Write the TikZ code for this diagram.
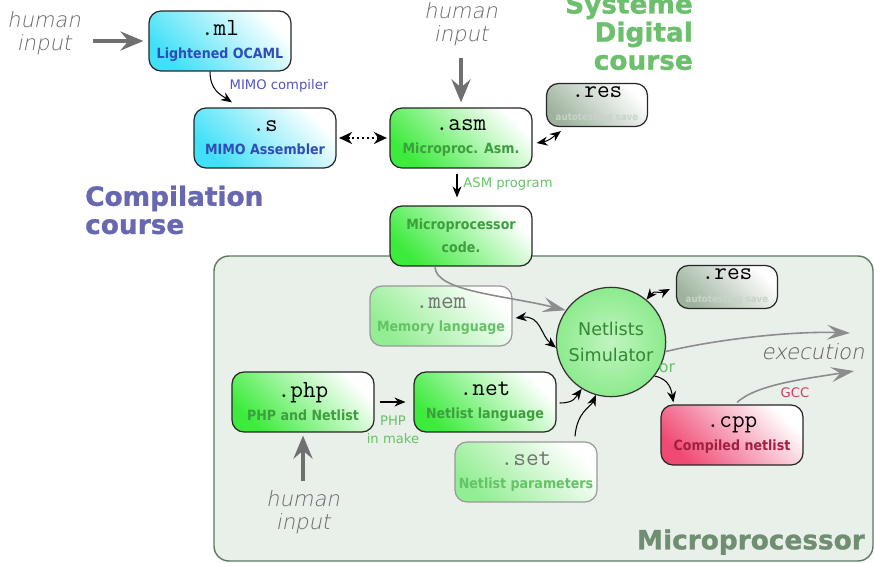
\documentclass[tikz,border=0pt]{standalone}
\usepackage{fontspec}
\usetikzlibrary{arrows.meta,calc}
\newfontfamily\mpsans{DejaVu Sans}
\newfontfamily\mpcond{DejaVu Sans Condensed}
\newfontfamily\mpfin[FakeSlant=0.2]{DejaVu Sans ExtraLight}
\newfontfamily\mpgras[FakeBold=1.2]{DejaVu Sans Bold}
\definecolor{mpcyan}{HTML}{3FE0F8}
\definecolor{mpbleu}{HTML}{2E4DB8}
\definecolor{mpvert}{HTML}{3DEB3D}
\definecolor{mpvertfonce}{HTML}{3E9E3E}
\definecolor{mpvertclair}{HTML}{66C266}
\definecolor{mpgris}{HTML}{707070}
\definecolor{mpfond}{HTML}{E9F0E9}
\definecolor{mpbord}{HTML}{5A7A62}
\definecolor{mpres}{HTML}{86A086}
\definecolor{mprose}{HTML}{F04A74}
\definecolor{mprouge}{HTML}{A31F40}
\definecolor{mpviolet}{HTML}{6868B2}
\definecolor{mptitrevert}{HTML}{6CBF6C}
\definecolor{mptitregris}{HTML}{6F8E72}
\definecolor{mpcercle}{HTML}{8DEB8D}
\newcommand{\mpext}{\ttfamily\fontsize{14}{14}\selectfont}
\newcommand{\mplab}{\mpcond\bfseries\fontsize{8}{10}\selectfont}
\newcommand{\fichier}[3][black]{{\mpext\textcolor{#1}{#2}}\\[1pt]{\mplab #3}}
\tikzset{
  mpboite/.style={draw=black!85, line width=0.7pt, rounded corners=0.24cm, minimum width=2.84cm,
                  minimum height=1.2cm, inner sep=1pt, align=center,
                  left color=#1, right color=white, shading angle=135},
  mpcomp/.style={mpboite=mpcyan, text=mpbleu},
  mpsd/.style={mpboite=mpvert, text=mpvertfonce},
  mppale/.style={mpboite=mpvert!50!mpfond, draw=black!40, text=mpvertclair},
  mpresboite/.style={mpboite=mpres!80!white, minimum width=2.02cm, minimum height=0.86cm, text=mpres!45!white},
  mpcpp/.style={mpboite=mprose, text=mprouge},
  mpsim/.style={circle, draw=black!80, line width=0.7pt, inner color=mpcercle!55!white,
                outer color=mpcercle, minimum size=1.94cm, align=center, text=mpvertfonce!85!black,
                font=\mpsans\fontsize{10}{15}\selectfont},
  mpfleche/.style={-{Stealth[length=2.2mm, width=1.8mm]}, semithick},
  mpdouble/.style={{Stealth[length=2.2mm, width=1.8mm]}-{Stealth[length=2.2mm, width=1.8mm]}, semithick},
  mpgrosse/.style={-{Stealth[length=4.6mm, width=3.8mm, inset=1.6mm]}, line width=2.6pt, draw=mpgris},
  mpgrise/.style={-{Stealth[length=4.6mm, width=3mm, inset=1.8mm]}, line width=0.9pt, draw=black!45},
  mphumain/.style={font=\mpfin\fontsize{12}{13}\selectfont, text=black!60, align=center},
  mpnote/.style={font=\mpsans\fontsize{7.5}{10.5}\selectfont, align=center},
  mptitre/.style={font=\mpgras\fontsize{15}{16}\selectfont},
}
\begin{document}
\begin{tikzpicture}[x=0.02cm, y=-0.02cm]
    \useasboundingbox (0,0) rectangle (874,563);
    % bloc du microprocesseur
    \draw[mpbord, line width=0.8pt, fill=mpfond, rounded corners=0.3cm] (214,256) rectangle (873,561);
    \node[mptitre, text=mptitregris, anchor=east] (titremp) at (871,542) {Microprocessor};
    % titres des cours
    \node[mptitre, text=mpviolet, anchor=west, align=left] (titrecomp) at (79,210) {Compilation\\course};
    \node[mptitre, text=mptitrevert, anchor=east, align=right] (titresd) at (699,32) {Systeme\\Digital\\course};
    % fichiers
    \node[mpcomp] (ml) at (220,41) {\fichier{.ml}{Lightened OCAML}};
    \node[mpcomp] (s) at (265,138) {\fichier{.s}{MIMO Assembler}};
    \node[mpsd] (asm) at (461,138) {\fichier{.asm}{Microproc. Asm.}};
    \node[mpresboite] (resa) at (597,105) {\fichier{.res}{\fontsize{5.5}{7}\selectfont autotesting save}};
    \node[mpsd, font=\mplab, text=mpvertfonce] (code) at (461,236) {Microprocessor\\[3pt]code.};
    \node[mppale] (mem) at (441,316) {\fichier[black!55]{.mem}{Memory language}};
    \node[mpsim] (sim) at (611,342) {Netlists\\Simulator};
    \node[mpresboite] (resb) at (727,287) {\fichier{.res}{\fontsize{5.5}{7}\selectfont autotesting save}};
    \node[mpsd] (php) at (303,402) {\fichier{.php}{PHP and Netlist}};
    \node[mpsd] (net) at (485,402) {\fichier{.net}{Netlist language}};
    \node[mppale] (set) at (526,472) {\fichier[black!55]{.set}{Netlist parameters}};
    \node[mpcpp] (cpp) at (732,435) {\fichier{.cpp}{Compiled netlist}};
    % entrees humaines
    \node[mphumain] (hina) at (44,33) {human\\input};
    \node[mphumain] (hinb) at (461,24) {human\\input};
    \node[mphumain] (hinc) at (303,512) {human\\input};
    \node[mphumain, text=black!65] (exec) at (813,352) {execution};
    % etiquettes des fleches
    \node[mpnote, text=mpviolet!80!blue] (lmimo) at (279,86) {MIMO compiler};
    \node[mpnote, text=mpvertclair] (lasm) at (508,184) {ASM program};
    \node[mpnote, text=mpvertclair] (lphp) at (393,430) {PHP\\in make};
    \node[mpnote, text=mpvertclair, font=\mpsans\fontsize{9}{10}\selectfont] (lor) at (667,368) {or};
    \node[mpnote, text=mprose!85!black] (lgcc) at (795,393) {GCC};
    \coordinate (fexec) at (850,333);
    \coordinate (fgcc) at (854,371);
    % fleches
    \draw[mpgrosse, shorten <=1.2mm, shorten >=1mm] (hina.east |- ml.west) -- (ml.west);
    \draw[mpgrosse, shorten <=1.2mm, shorten >=1mm] (hinb.south) -- (asm.north);
    \draw[mpgrosse, shorten <=0.6mm, shorten >=0.6mm] (hinc.north) -- (php.south);
    \draw[mpfleche] ($(ml.south)+(-10,0)$) .. controls +(0,18) and +(-12,-8) .. ($(s.north)+(-33,-5)$);
    \draw[{Stealth[length=2.6mm, width=2.4mm]}-{Stealth[length=2.6mm, width=2.4mm]}, line width=1.4pt,
          dash pattern=on 1.4pt off 1.4pt, shorten <=0.5mm, shorten >=0.5mm] (s.east) -- (asm.west);
    \draw[mpdouble] ($(asm.east)+(4,5)$) .. controls +(12,-2) and +(-8,6) .. ($(resa.south west)+(15,4)$);
    \draw[mpfleche, shorten <=1mm, shorten >=1.6mm] ($(asm.south)+(-4,0)$) -- ($(code.north)+(-4,0)$);
    \draw[mpgrise] ($(code.south)+(-26,0)$) .. controls +(0,25) and +(-60,-15) .. (sim.145);
    \draw[mpdouble] ($(mem.east)+(3,2)$) .. controls +(25,-3) and +(-15,-12) .. (sim.186);
    \draw[mpdouble] (sim.50) .. controls +(8,-10) and +(-10,5) .. ($(resb.west)+(-6,2)$);
    \draw[mpgrise] (sim.-10) .. controls +(50,-12) and +(-60,-2) .. (fexec);
    \draw[mpfleche] (sim.-38) .. controls +(15,3) and +(-2,-12) .. ($(cpp.north west)+(13,-2)$);
    \draw[mpgrise] ($(cpp.north)+(5,-2)$) .. controls +(20,-18) and +(-50,8) .. (fgcc);
    \draw[mpfleche, shorten <=1mm, shorten >=1.6mm] (php.east) -- (net.west);
    \draw[mpfleche] ($(net.east)+(3,1)$) .. controls +(15,0) and +(-6,8) .. (sim.-122);
    \draw[mpfleche] ($(set.north)+(49,-5)$) .. controls +(2,-25) and +(-5,12) .. (sim.-106);
\end{tikzpicture}
\end{document}
